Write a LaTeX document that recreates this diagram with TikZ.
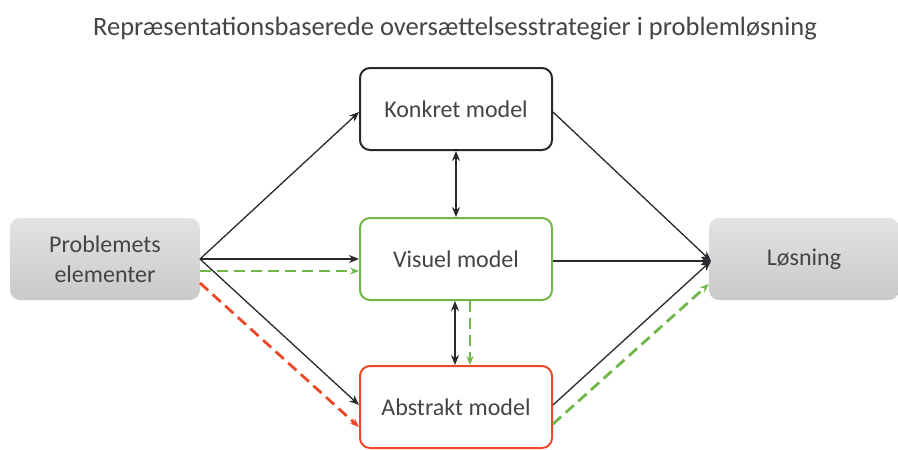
\documentclass[tikz,border=0pt]{standalone}
\usepackage{fontspec}
\setmainfont{Carlito}
\usetikzlibrary{arrows.meta}
\definecolor{txt}{RGB}{68,68,70}
\definecolor{grn}{RGB}{112,182,72}
\definecolor{rd}{RGB}{236,72,42}
\definecolor{ln}{RGB}{40,40,45}
\tikzset{
  box/.style={rounded corners=10pt, minimum width=192pt, minimum height=82pt, line width=2pt, fill=white, text=txt, font=\fontsize{24}{30}\selectfont, align=center},
  gbox/.style={rounded corners=10pt, minimum width=190pt, minimum height=82pt, draw=none, top color=gray!22, bottom color=gray!42, text=txt, font=\fontsize{24}{30}\selectfont, align=center},
  conn/.style={draw=ln, line width=1.3pt, -{Stealth[length=10pt,width=8pt]}},
  dconn/.style={draw=ln, line width=1.3pt, {Stealth[length=10pt,width=8pt]}-{Stealth[length=10pt,width=8pt]}},
  gdash/.style={draw=grn, line width=2.8pt, dash pattern=on 11pt off 6pt, -{Stealth[length=9pt,width=7pt]}},
  rdash/.style={draw=rd, line width=2.8pt, dash pattern=on 11pt off 6pt, -{Stealth[length=9pt,width=7pt]}},
}
\begin{document}
\begin{tikzpicture}[x=1pt,y=-1pt]
\useasboundingbox (0,0) rectangle (898,450);
\node[text=txt, font=\fontsize{26.5}{30}\selectfont] (title) at (455,29) {Repræsentationsbaserede oversættelsesstrategier i problemløsning};
\node[gbox] (prob) at (105,259) {Problemets\\elementer};
\node[box, draw=ln] (konk) at (456,109) {Konkret model};
\node[box, draw=grn] (vis) at (456,259) {Visuel model};
\node[box, draw=rd] (abs) at (456,407) {Abstrakt model};
\node[gbox] (los) at (804,259) {Løsning};
% left connectors
\coordinate (pA) at (200,259);
\coordinate (pG) at (200,271);
\coordinate (pR) at (200,283);
\draw[conn] (pA) -- (konk.west |- 0,112);
\draw[conn] (pA) -- (vis.west |- 0,259);
\draw[gdash] (pG) -- (vis.west |- 0,271);
\draw[conn] (pA) -- (abs.west |- 0,405);
\draw[rdash] (pR) -- (abs.west |- 0,427);
% vertical
\draw[dconn] (konk.south) -- (vis.north);
\draw[dconn] (vis.south -| 455,0) -- (abs.north -| 455,0);
\draw[gdash] (vis.south -| 470,0) -- (abs.north -| 470,0);
% right connectors
\coordinate (lA) at (711,261);
\draw[conn] (konk.east |- 0,112) -- (lA);
\draw[conn] (vis.east |- 0,261) -- (lA);
\draw[conn] (abs.east |- 0,405) -- (lA);
\draw[gdash] (abs.east |- 0,424) -- (los.west |- 0,284);
\end{tikzpicture}
\end{document}
